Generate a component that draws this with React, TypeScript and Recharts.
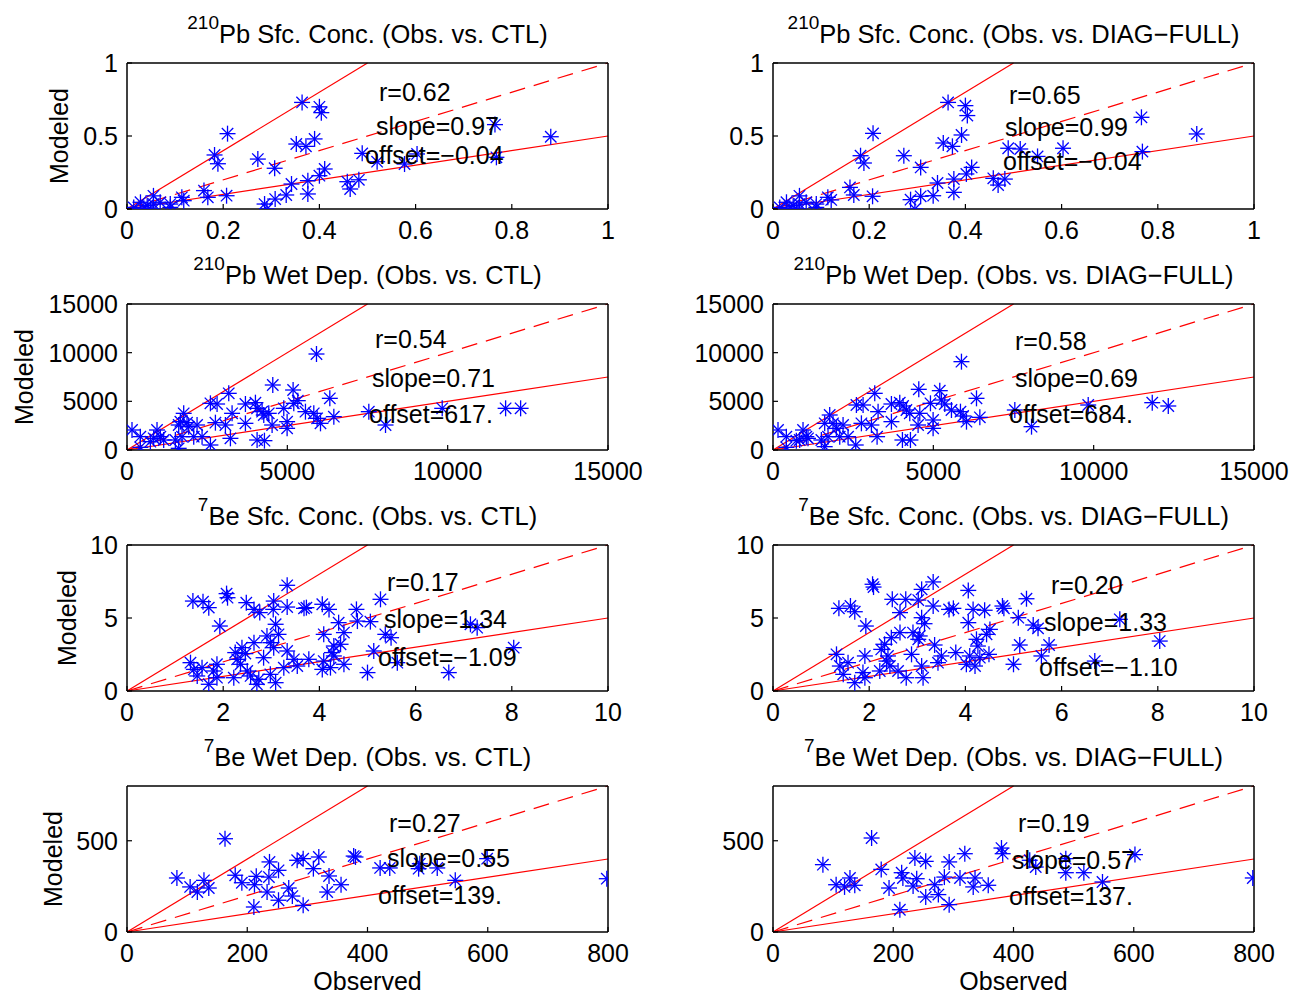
import React from 'react';
import { ScatterChart, Scatter, XAxis, YAxis, ReferenceLine } from 'recharts';

type Pt = { x: number; y: number };
const pts = (rows: number[][]): Pt[] => rows.map(([x, y]) => ({ x, y }));

// observed (x) vs modeled (y) for each station
const pbSfcCtl = pts([
  [0.364, 0.73], [0.4, 0.7], [0.404, 0.66], [0.209, 0.516], [0.182, 0.37], [0.189, 0.31],
  [0.272, 0.342], [0.307, 0.279], [0.352, 0.445], [0.372, 0.429], [0.39, 0.48], [0.765, 0.578],
  [0.881, 0.495], [0.489, 0.381], [0.52, 0.324], [0.577, 0.308], [0.603, 0.377], [0.768, 0.354],
  [0.411, 0.274], [0.4, 0.228], [0.376, 0.194], [0.376, 0.103], [0.342, 0.171], [0.331, 0.096],
  [0.308, 0.068], [0.286, 0.034], [0.291, 0.0], [0.458, 0.187], [0.482, 0.2], [0.464, 0.137],
  [0.207, 0.091], [0.168, 0.08], [0.16, 0.126], [0.114, 0.08], [0.118, 0.057], [0.014, 0.011],
  [0.028, 0.046], [0.042, 0.023], [0.055, 0.09], [0.055, 0.034], [0.069, 0.046], [0.09, 0.034],
  [0.09, 0.011], [0.049, 0.0], [0.035, 0.005],
]);

const pbSfcDiag = pts([
  [0.364, 0.73], [0.4, 0.708], [0.404, 0.64], [0.208, 0.518], [0.182, 0.365], [0.189, 0.315],
  [0.272, 0.365], [0.307, 0.285], [0.354, 0.452], [0.373, 0.429], [0.392, 0.507], [0.766, 0.628],
  [0.881, 0.514], [0.489, 0.416], [0.514, 0.411], [0.603, 0.416], [0.768, 0.393], [0.55, 0.36],
  [0.413, 0.285], [0.402, 0.24], [0.376, 0.205], [0.376, 0.114], [0.342, 0.178], [0.333, 0.091],
  [0.307, 0.087], [0.286, 0.064], [0.295, 0.0], [0.458, 0.21], [0.482, 0.205], [0.468, 0.164],
  [0.207, 0.087], [0.168, 0.096], [0.16, 0.148], [0.114, 0.08], [0.121, 0.062], [0.014, 0.011],
  [0.028, 0.046], [0.042, 0.023], [0.055, 0.09], [0.055, 0.034], [0.069, 0.046], [0.09, 0.034],
  [0.09, 0.011], [0.049, 0.0], [0.035, 0.005],
]);

const pbWetCtl = pts([
  [5909, 9863], [4546, 6678], [5180, 6164], [6325, 5308], [3173, 5822], [2601, 4795], [2809, 4726],
  [3693, 4726], [4005, 4863], [4057, 4281], [4213, 3938], [4265, 3596], [3277, 3767], [3693, 2740],
  [4421, 3767], [4889, 4281], [5201, 4795], [5326, 5068], [5565, 3938], [5825, 3767], [5929, 3253],
  [6034, 2740], [6450, 3425], [4993, 2911], [4993, 2226], [4525, 2568], [4057, 1027], [4286, 959],
  [3225, 1199], [2757, 2808], [3069, 2568], [2601, 514], [2185, 2568], [2341, 1370], [1768, 3767],
  [1664, 2911], [1872, 2808], [1612, 2568], [1924, 2397], [2081, 1370], [1716, 1370], [1612, 171],
  [1508, 1027], [1144, 1027], [936, 2055], [832, 1199], [1040, 1370], [156, 2055], [416, 1370],
  [416, 274], [728, 856], [7541, 3938], [8062, 2568], [9830, 4281], [11807, 4281], [12275, 4281],
]);

const pbWetDiag = pts([
  [5877, 9075], [4546, 6233], [5201, 6096], [6346, 5308], [3173, 5822], [2601, 4623], [2809, 4623],
  [3693, 4726], [3953, 4863], [4057, 4521], [4161, 4110], [4265, 3767], [3277, 3938], [3693, 2911],
  [4577, 3767], [4910, 4795], [5253, 5137], [5357, 4726], [5565, 4110], [5846, 3938], [5929, 3493],
  [6034, 2911], [6450, 3356], [4993, 3082], [4993, 2226], [4525, 2568], [4036, 1027], [4286, 1027],
  [3246, 1370], [2757, 2740], [3069, 2568], [2580, 514], [2185, 2568], [2341, 1370], [1768, 3596],
  [1612, 2740], [1872, 2740], [1976, 2226], [2081, 1370], [1716, 1370], [1612, 342], [1508, 1027],
  [1092, 1199], [936, 2055], [832, 1027], [1040, 1370], [156, 2055], [416, 1370], [416, 274],
  [728, 959], [7541, 4110], [8062, 2397], [9830, 4623], [11827, 4863], [12327, 4521],
]);

const beSfcCtl = pts([
  [3.33, 7.24], [2.07, 6.67], [2.09, 6.39], [1.37, 6.16], [1.58, 6.12], [1.7, 5.71], [2.48, 6.05],
  [2.64, 5.59], [2.76, 5.37], [3.05, 6.16], [3.04, 5.59], [3.33, 5.75], [3.68, 5.66], [3.73, 5.71],
  [4.06, 5.94], [4.2, 5.59], [4.77, 5.59], [5.27, 6.28], [4.79, 4.79], [5.06, 4.75], [4.4, 4.68],
  [1.93, 4.45], [3.09, 4.57], [7.14, 4.57], [7.28, 4.34], [4.09, 3.88], [4.51, 4.0], [5.37, 3.88],
  [5.49, 3.65], [2.91, 3.77], [3.15, 3.88], [2.64, 3.31], [2.98, 3.31], [3.05, 2.97], [3.33, 2.74],
  [4.3, 3.08], [4.44, 3.2], [4.26, 2.63], [5.13, 2.74], [8.04, 2.97], [2.39, 2.97], [2.25, 2.63],
  [2.46, 2.56], [2.29, 2.17], [2.36, 1.83], [2.84, 2.28], [3.47, 2.17], [3.78, 2.17], [4.09, 2.05],
  [4.3, 2.4], [4.51, 1.83], [5.62, 1.94], [1.32, 1.94], [1.87, 1.83], [1.39, 1.48], [1.56, 1.6],
  [1.46, 1.03], [1.7, 0.46], [1.87, 0.91], [1.8, 1.37], [2.22, 0.91], [2.5, 1.37], [2.57, 1.03],
  [2.74, 0.8], [2.7, 0.46], [2.98, 1.14], [3.09, 0.57], [3.26, 1.6], [3.54, 1.71], [4.06, 1.48],
  [4.23, 1.6], [5.0, 1.26], [6.69, 1.26],
]);

const beSfcDiag = pts([
  [2.07, 7.31], [2.09, 7.12], [3.33, 7.47], [3.09, 6.96], [4.06, 6.89], [5.27, 6.32], [2.48, 6.28],
  [2.76, 6.28], [3.02, 6.23], [2.64, 5.37], [1.37, 5.66], [1.61, 5.82], [1.7, 5.43], [3.33, 5.82],
  [3.66, 5.59], [3.75, 5.66], [4.16, 5.59], [4.4, 5.53], [4.77, 5.82], [4.8, 5.66], [5.1, 5.02],
  [5.41, 4.52], [5.51, 4.29], [7.21, 4.91], [3.09, 5.02], [3.15, 4.61], [4.06, 4.68], [1.93, 4.45],
  [4.51, 4.22], [4.44, 3.88], [4.23, 3.54], [4.26, 3.08], [2.91, 4.0], [3.05, 3.77], [3.02, 3.54],
  [2.64, 4.0], [2.46, 3.65], [2.32, 3.2], [2.25, 2.85], [3.36, 3.15], [5.13, 3.15], [5.74, 3.15],
  [8.04, 3.42], [5.58, 2.4], [1.32, 2.51], [1.91, 2.4], [2.88, 2.51], [2.39, 2.4], [2.36, 2.05],
  [2.43, 1.71], [3.5, 2.4], [3.8, 2.63], [4.09, 2.4], [4.3, 2.28], [4.49, 2.51], [5.0, 1.83],
  [6.69, 2.05], [1.39, 1.71], [1.56, 1.94], [1.46, 1.14], [1.7, 0.57], [1.87, 1.26], [1.91, 0.91],
  [2.22, 1.37], [2.6, 1.37], [2.77, 0.91], [3.09, 1.71], [3.12, 0.91], [3.43, 1.94], [4.02, 1.83],
  [4.2, 1.71],
]);

const beWetCtl = pts([
  [163, 511], [83, 296], [105, 247], [117, 219], [128, 283], [136, 241], [180, 311], [191, 270],
  [215, 305], [212, 259], [237, 384], [236, 301], [252, 338], [233, 219], [211, 137], [252, 174],
  [269, 241], [275, 197], [283, 393], [293, 402], [310, 347], [319, 411], [293, 146], [336, 307],
  [333, 219], [356, 259], [377, 416], [380, 411], [421, 351], [437, 351], [487, 374], [485, 347],
  [516, 351], [546, 283], [599, 402], [798, 292],
]);

const beWetDiag = pts([
  [164, 515], [83, 369], [105, 259], [119, 247], [128, 296], [136, 256], [180, 343], [193, 241],
  [214, 325], [216, 296], [236, 405], [239, 292], [254, 387], [233, 252], [211, 122], [254, 192],
  [269, 259], [275, 205], [285, 301], [293, 384], [311, 296], [319, 429], [293, 150], [336, 296],
  [333, 247], [358, 256], [380, 460], [382, 429], [427, 393], [437, 356], [487, 402], [487, 325],
  [517, 325], [548, 274], [602, 424], [798, 296],
]);

// one row per tracer/quantity
const rowMax = [1, 15000, 10, 800];
const rowXTicks = [
  [0, 0.2, 0.4, 0.6, 0.8, 1],
  [0, 5000, 10000, 15000],
  [0, 2, 4, 6, 8, 10],
  [0, 200, 400, 600, 800],
];
const rowYTicks = [[0, 0.5, 1], [0, 5000, 10000, 15000], [0, 5, 10], [0, 500]];
const isotopes = ['210', '210', '7', '7'];
const quantities = ['Pb Sfc. Conc.', 'Pb Wet Dep.', 'Be Sfc. Conc.', 'Be Wet Dep.'];
const runs = ['CTL', 'DIAG\u2212FULL'];

const panelData = [
  [pbSfcCtl, pbSfcDiag],
  [pbWetCtl, pbWetDiag],
  [beSfcCtl, beSfcDiag],
  [beWetCtl, beWetDiag],
];

const panelR = [['0.62', '0.65'], ['0.54', '0.58'], ['0.17', '0.20'], ['0.27', '0.19']];
const panelSlope = [['0.97', '0.99'], ['0.71', '0.69'], ['1.34', '1.33'], ['0.55', '0.57']];
const panelOffset = [
  ['\u22120.04', '\u22120.04'],
  ['617.', '684.'],
  ['\u22121.09', '\u22121.10'],
  ['139.', '137.'],
];

// layout (page pixels)
const COL_LEFT = [127, 773];
const ROW_TOP = [63, 304, 545, 786];
const PLOT_W = 481;
const PLOT_H = 146;
const YLABEL_X = [68, 33, 76, 62];
// [x, centerY] of the r / slope / offset lines
const statPos = [
  [[[379, 92], [376, 126], [365, 155]], [[1009, 95], [1005, 127], [1003, 161]]],
  [[[375, 339], [372, 378], [369, 414]], [[1015, 341], [1015, 378], [1009, 414]]],
  [[[387, 582], [384, 619], [378, 657]], [[1051, 585], [1044, 622], [1039, 667]]],
  [[[389, 823], [387, 858], [378, 895]], [[1018, 823], [1012, 860], [1009, 896]]],
];

const FONT = '"Liberation Sans", Arial, Helvetica, sans-serif';
const FS = 25;

function Asterisk({ cx, cy }: { cx: number; cy: number }) {
  const r = 8;
  const d = 5.7;
  return (
    <g stroke="#0000ff" strokeWidth={1.3}>
      <line x1={cx - r} y1={cy} x2={cx + r} y2={cy} />
      <line x1={cx} y1={cy - r} x2={cx} y2={cy + r} />
      <line x1={cx - d} y1={cy - d} x2={cx + d} y2={cy + d} />
      <line x1={cx - d} y1={cy + d} x2={cx + d} y2={cy - d} />
    </g>
  );
}

const tickText = { fill: '#000', fontSize: FS, fontFamily: FONT };
const axisLine = { stroke: '#000', strokeWidth: 1.5 };
const tickLine = { stroke: '#000', strokeWidth: 1.2 };

function Panel({ data, max, xTicks, yTicks, left, top }: {
  data: Pt[]; max: number; xTicks: number[]; yTicks: number[]; left: number; top: number;
}) {
  return (
    <div style={{ position: 'absolute', left: left - 110, top: top - 50 }}>
      <ScatterChart width={620} height={240} margin={{ top: 40, right: 19, bottom: 14, left: 50 }}>
        <XAxis xAxisId="b" type="number" dataKey="x" domain={[0, max]} ticks={xTicks} interval={0}
          allowDataOverflow height={30} tickSize={-5} tickMargin={17} stroke="#000"
          axisLine={axisLine} tickLine={tickLine} tick={tickText} />
        <XAxis xAxisId="t" orientation="top" type="number" domain={[0, max]} ticks={xTicks}
          interval={0} allowDataOverflow height={10} tickSize={-5} stroke="#000"
          axisLine={axisLine} tickLine={tickLine} tick={false} />
        <YAxis yAxisId="l" type="number" dataKey="y" domain={[0, max]} ticks={yTicks} interval={0}
          allowDataOverflow width={60} tickSize={-5} tickMargin={14} stroke="#000"
          axisLine={axisLine} tickLine={tickLine} tick={tickText} />
        <YAxis yAxisId="r" orientation="right" type="number" domain={[0, max]} ticks={yTicks}
          interval={0} allowDataOverflow width={10} tickSize={-5} stroke="#000"
          axisLine={axisLine} tickLine={tickLine} tick={false} />
        <ReferenceLine xAxisId="b" yAxisId="l" segment={[{ x: 0, y: 0 }, { x: max, y: max }]}
          stroke="#ff0000" strokeWidth={1.2} strokeDasharray="16 9" ifOverflow="visible" />
        <ReferenceLine xAxisId="b" yAxisId="l" segment={[{ x: 0, y: 0 }, { x: max / 2, y: max }]}
          stroke="#ff0000" strokeWidth={1.2} ifOverflow="visible" />
        <ReferenceLine xAxisId="b" yAxisId="l" segment={[{ x: 0, y: 0 }, { x: max, y: max / 2 }]}
          stroke="#ff0000" strokeWidth={1.2} ifOverflow="visible" />
        <Scatter xAxisId="b" yAxisId="l" data={data} isAnimationActive={false}
          shape={(p: any) => <Asterisk cx={p.cx} cy={p.cy} />} />
      </ScatterChart>
    </div>
  );
}

export default function App() {
  const texts: React.ReactNode[] = [];
  ROW_TOP.forEach((top, row) => {
    COL_LEFT.forEach((left, col) => {
      const cx = left + PLOT_W / 2;
      texts.push(
        <text key={`t${row}${col}`} x={cx} y={top - 20} textAnchor="middle" fontSize={25.5}>
          <tspan fontSize={19} dy={-14}>{isotopes[row]}</tspan>
          <tspan dy={14}>{`${quantities[row]} (Obs. vs. ${runs[col]})`}</tspan>
        </text>
      );
      const lines = [`r=${panelR[row][col]}`, `slope=${panelSlope[row][col]}`, `offset=${panelOffset[row][col]}`];
      lines.forEach((s, i) => {
        const [x, y] = statPos[row][col][i];
        texts.push(
          <text key={`s${row}${col}${i}`} x={x} y={y} fontSize={FS} dominantBaseline="central">{s}</text>
        );
      });
      if (col === 0) {
        const ly = top + PLOT_H / 2;
        texts.push(
          <text key={`y${row}`} x={YLABEL_X[row]} y={ly} fontSize={FS} textAnchor="middle"
            transform={`rotate(-90 ${YLABEL_X[row]} ${ly})`}>Modeled</text>
        );
      }
      if (row === 3) {
        texts.push(
          <text key={`x${col}`} x={cx} y={990} fontSize={FS} textAnchor="middle">Observed</text>
        );
      }
    });
  });

  return (
    <div style={{ position: 'absolute', left: 0, top: 0, width: 1292, height: 996, background: '#fff', overflow: 'hidden' }}>
      <style>{'.recharts-surface{overflow:visible}'}</style>
      {ROW_TOP.map((top, row) =>
        COL_LEFT.map((left, col) => (
          <Panel key={`${row}-${col}`} data={panelData[row][col]} max={rowMax[row]}
            xTicks={rowXTicks[row]} yTicks={rowYTicks[row]} left={left} top={top} />
        ))
      )}
      <svg width={1292} height={996} style={{ position: 'absolute', left: 0, top: 0, pointerEvents: 'none' }}
        fontFamily={FONT} fill="#000">
        {texts}
      </svg>
    </div>
  );
}
